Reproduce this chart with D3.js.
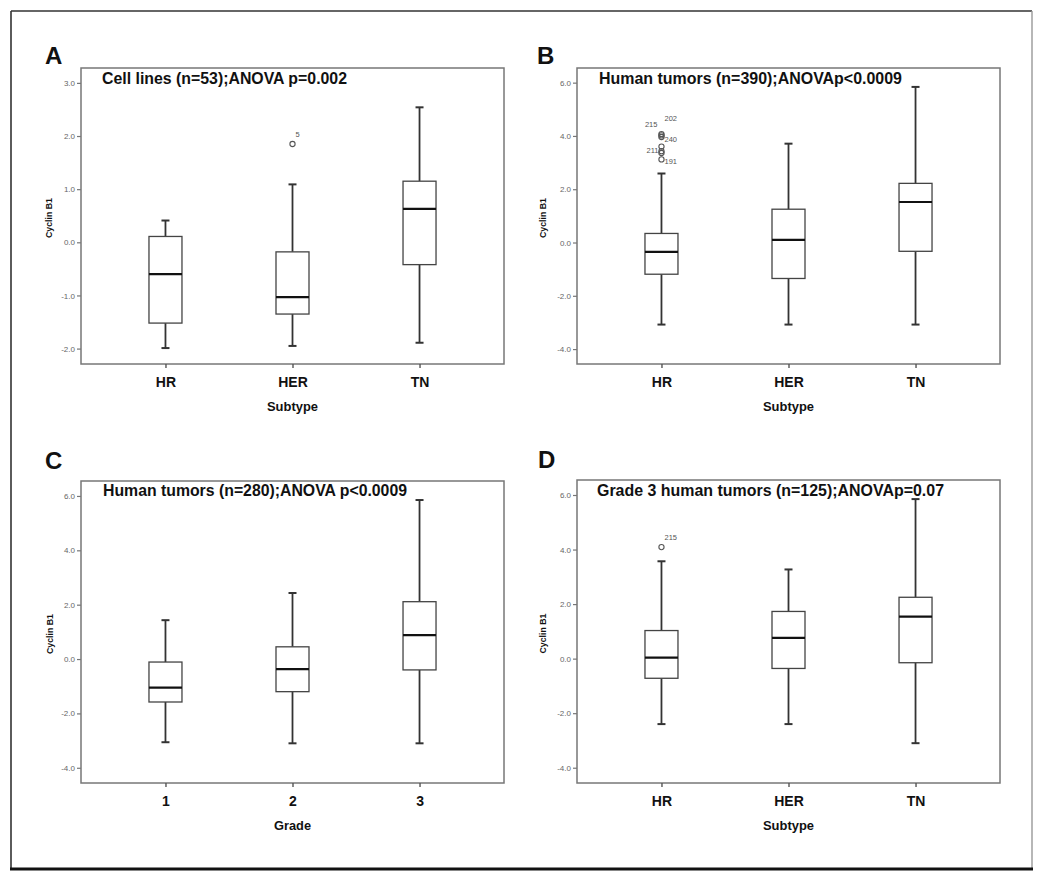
<!DOCTYPE html>
<html>
<head>
<meta charset="utf-8">
<script src="https://cdn.jsdelivr.net/npm/d3@7/dist/d3.min.js"></script>
<style>
  html, body { margin: 0; padding: 0; background: #fff; }
  svg { display: block; }
  text { font-family: "Liberation Sans", Arial, sans-serif; }
</style>
</head>
<body>
<svg id="chart" width="1050" height="876"></svg>
<script>
// ---------------- DATA ----------------
const panelLetters = ["A", "B", "C", "D"];
const panelTitles = [
  "Cell lines (n=53);ANOVA p=0.002",
  "Human tumors (n=390);ANOVAp<0.0009",
  "Human tumors (n=280);ANOVA p<0.0009",
  "Grade 3 human tumors (n=125);ANOVAp=0.07"
];
const subtypeCategories = ["HR", "HER", "TN"];
const gradeCategories = ["1", "2", "3"];
const xAxisTitles = ["Subtype", "Subtype", "Grade", "Subtype"];
const yAxisTitle = "Cyclin B1";
const yTicksA = [-2, -1, 0, 1, 2, 3];
const yTicksBCD = [-4, -2, 0, 2, 4, 6];
const yDomainA = [-2.29, 3.28];
const yDomainBCD = [-4.56, 6.55];

// box stats: [lower whisker, Q1, median, Q3, upper whisker]
const boxesA = [
  [-1.99, -1.52, -0.60, 0.11, 0.41],
  [-1.95, -1.35, -1.03, -0.18, 1.09],
  [-1.89, -0.42, 0.63, 1.15, 2.54]
];
const boxesB = [
  [-3.08, -1.19, -0.35, 0.34, 2.59],
  [-3.08, -1.35, 0.10, 1.25, 3.71],
  [-3.08, -0.33, 1.52, 2.22, 5.84]
];
const boxesC = [
  [-3.06, -1.58, -1.05, -0.11, 1.43],
  [-3.10, -1.20, -0.37, 0.45, 2.43],
  [-3.10, -0.40, 0.88, 2.11, 5.85]
];
const boxesD = [
  [-2.40, -0.72, 0.04, 1.03, 3.57],
  [-2.40, -0.36, 0.76, 1.73, 3.27],
  [-3.10, -0.15, 1.54, 2.25, 5.85]
];

// outliers: category, value, case label, label side
const outliersA = [
  { cat: "HER", value: 1.85, label: "5", side: "ur" }
];
const outliersB = [
  { cat: "HR", value: 4.07, label: "202", side: "ur" },
  { cat: "HR", value: 4.02, label: "215", side: "ul" },
  { cat: "HR", value: 3.96, label: "240", side: "r" },
  { cat: "HR", value: 3.60, label: "", side: "" },
  { cat: "HR", value: 3.43, label: "211", side: "l" },
  { cat: "HR", value: 3.36, label: "", side: "" },
  { cat: "HR", value: 3.12, label: "191", side: "r" }
];
const outliersC = [];
const outliersD = [
  { cat: "HR", value: 4.09, label: "215", side: "ur" }
];

// ---------------- LAYOUT ----------------
const svg = d3.select("#chart");

// outer border
svg.append("line").attr("x1", 11).attr("y1", 11).attr("x2", 1032).attr("y2", 11)
  .attr("stroke", "#333").attr("stroke-width", 1.6);
svg.append("line").attr("x1", 11).attr("y1", 11).attr("x2", 11).attr("y2", 869)
  .attr("stroke", "#333").attr("stroke-width", 1.6);
svg.append("line").attr("x1", 1032).attr("y1", 11).attr("x2", 1032).attr("y2", 869)
  .attr("stroke", "#999").attr("stroke-width", 1.4);
svg.append("line").attr("x1", 10).attr("y1", 869).attr("x2", 1033).attr("y2", 869)
  .attr("stroke", "#111").attr("stroke-width", 3);

const panels = [
  { frame: { x0: 81, x1: 504, y0: 68, y1: 364 }, letterPos: [45, 64], titlePos: [102, 84], titleW: 245,
    cats: subtypeCategories, boxes: boxesA, outliers: outliersA, ticks: yTicksA, domain: yDomainA, yLabX: 49, xTitleW: 51 },
  { frame: { x0: 577, x1: 1000, y0: 68, y1: 364 }, letterPos: [537, 64], titlePos: [599, 84], titleW: 303,
    cats: subtypeCategories, boxes: boxesB, outliers: outliersB, ticks: yTicksBCD, domain: yDomainBCD, yLabX: 543, xTitleW: 51 },
  { frame: { x0: 81, x1: 504, y0: 481, y1: 783 }, letterPos: [45, 469], titlePos: [103, 496], titleW: 304,
    cats: gradeCategories, boxes: boxesC, outliers: outliersC, ticks: yTicksBCD, domain: yDomainBCD, yLabX: 50, xTitleW: 37 },
  { frame: { x0: 577, x1: 1000, y0: 480, y1: 783 }, letterPos: [538, 468], titlePos: [597, 496], titleW: 347,
    cats: subtypeCategories, boxes: boxesD, outliers: outliersD, ticks: yTicksBCD, domain: yDomainBCD, yLabX: 543, xTitleW: 51 }
];

const lineCol = "#333";
const boxW = 33;
const capW = 8;

panels.forEach((p, i) => {
  const f = p.frame;
  const g = svg.append("g");

  const x = d3.scalePoint().domain(p.cats).range([f.x0, f.x1]).padding(0.665);
  const y = d3.scaleLinear().domain(p.domain).range([f.y1, f.y0]);

  // frame
  g.append("rect").attr("x", f.x0).attr("y", f.y0)
    .attr("width", f.x1 - f.x0).attr("height", f.y1 - f.y0)
    .attr("fill", "none").attr("stroke", "#777").attr("stroke-width", 1.5);

  // y axis
  const yAxis = d3.axisLeft(y).tickValues(p.ticks).tickSize(4).tickPadding(2)
    .tickFormat(d3.format(".1f"));
  const ya = g.append("g").attr("transform", `translate(${f.x0},0)`).call(yAxis);
  ya.select(".domain").remove();
  ya.selectAll(".tick line").attr("stroke", "#777").attr("stroke-width", 1.2);
  ya.selectAll(".tick text").attr("fill", "#666").style("font-size", "8px")
    .style("font-family", "'Liberation Sans', Arial, sans-serif")
    .text(d => d3.format(".1f")(d).replace("−", "-"));

  // x axis
  const xAxis = d3.axisBottom(x).tickSize(4).tickPadding(10);
  const xa = g.append("g").attr("transform", `translate(0,${f.y1})`).call(xAxis);
  xa.select(".domain").remove();
  xa.selectAll(".tick line").attr("stroke", "#555").attr("stroke-width", 1.4);
  xa.selectAll(".tick text").attr("fill", "#111").style("font-size", "14px")
    .style("font-weight", "bold").style("font-family", "'Liberation Sans', Arial, sans-serif")
    .attr("y", null).attr("dy", null).attr("transform", "translate(0,23)");

  // x axis title
  g.append("text").attr("x", (x(p.cats[1]))).attr("y", f.y1 + 47)
    .attr("text-anchor", "middle").style("font-size", "13px").style("font-weight", "bold")
    .attr("fill", "#111").attr("textLength", p.xTitleW).attr("lengthAdjust", "spacingAndGlyphs")
    .text(xAxisTitles[i]);

  // y axis title
  const yc = (f.y0 + f.y1) / 2 + 2;
  g.append("text").attr("transform", `translate(${p.yLabX + 3},${yc}) rotate(-90)`)
    .attr("text-anchor", "middle").style("font-size", "9.5px").style("font-weight", "bold")
    .attr("fill", "#111").attr("textLength", 40).attr("lengthAdjust", "spacingAndGlyphs")
    .text(yAxisTitle);

  // panel letter
  g.append("text").attr("x", p.letterPos[0]).attr("y", p.letterPos[1])
    .style("font-size", "24px").style("font-weight", "bold").attr("fill", "#111")
    .text(panelLetters[i]);

  // panel title
  g.append("text").attr("x", p.titlePos[0]).attr("y", p.titlePos[1])
    .style("font-size", "16px").style("font-weight", "bold").attr("fill", "#111")
    .attr("textLength", p.titleW).attr("lengthAdjust", "spacingAndGlyphs")
    .text(panelTitles[i]);

  // boxes
  const bg = g.append("g").selectAll("g").data(p.boxes).join("g");
  bg.each(function (d, j) {
    const cx = x(p.cats[j]);
    const s = d3.select(this);
    // whiskers
    s.append("line").attr("x1", cx).attr("x2", cx).attr("y1", y(d[4])).attr("y2", y(d[3]))
      .attr("stroke", lineCol).attr("stroke-width", 1.8);
    s.append("line").attr("x1", cx).attr("x2", cx).attr("y1", y(d[1])).attr("y2", y(d[0]))
      .attr("stroke", lineCol).attr("stroke-width", 1.8);
    // caps
    [d[0], d[4]].forEach(v => {
      s.append("line").attr("x1", cx - capW / 2).attr("x2", cx + capW / 2)
        .attr("y1", y(v)).attr("y2", y(v)).attr("stroke", lineCol).attr("stroke-width", 2);
    });
    // box
    s.append("rect").attr("x", cx - boxW / 2).attr("width", boxW)
      .attr("y", y(d[3])).attr("height", y(d[1]) - y(d[3]))
      .attr("fill", "#fff").attr("stroke", "#444").attr("stroke-width", 1.3);
    // median
    s.append("line").attr("x1", cx - boxW / 2).attr("x2", cx + boxW / 2)
      .attr("y1", y(d[2])).attr("y2", y(d[2])).attr("stroke", "#111").attr("stroke-width", 2.2);
  });

  // outliers
  const og = g.append("g");
  p.outliers.forEach(o => {
    const cx = x(o.cat), cy = y(o.value);
    og.append("circle").attr("cx", cx).attr("cy", cy).attr("r", 2.6)
      .attr("fill", "none").attr("stroke", "#555").attr("stroke-width", 1.1);
    if (o.label) {
      let lx = cx + 3, ly = cy - 5, anchor = "start";
      if (o.side === "ul") { lx = cx - 4; ly = cy - 8; anchor = "end"; }
      if (o.side === "ur") { lx = cx + 3; ly = cy - 13 + (o.label === "5" || p === panels[3] ? 6 : 0); anchor = "start"; }
      if (o.side === "r") { lx = cx + 3; ly = cy + 5; anchor = "start"; }
      if (o.side === "l") { lx = cx - 3; ly = cy + 2; anchor = "end"; }
      og.append("text").attr("x", lx).attr("y", ly).attr("text-anchor", anchor)
        .style("font-size", "7.5px").attr("fill", "#555").text(o.label);
    }
  });
});
</script>
</body>
</html>
